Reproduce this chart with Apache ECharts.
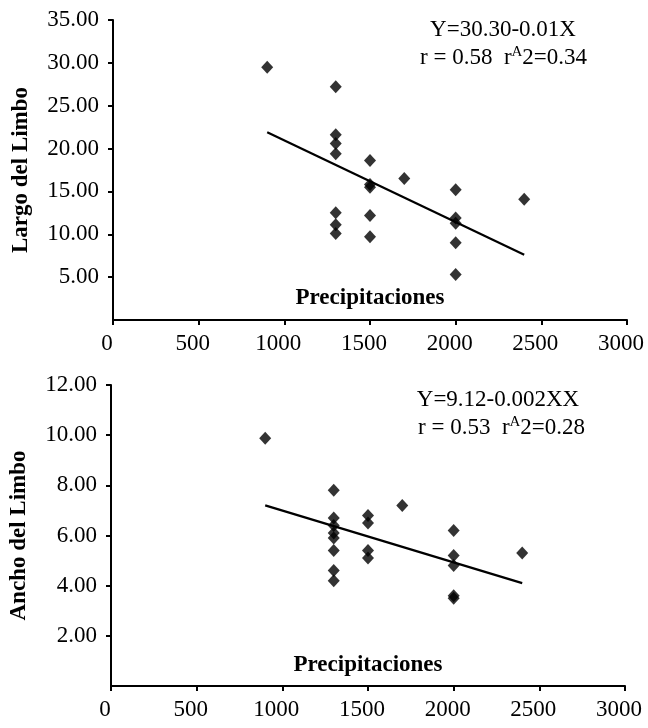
<!DOCTYPE html>
<html>
<head>
<meta charset="utf-8">
<script src="https://cdn.jsdelivr.net/npm/echarts@6/dist/echarts.min.js"></script>
<style>
  html, body { margin: 0; padding: 0; background: #fff; }
  #chart { width: 648px; height: 728px; }
</style>
</head>
<body>
<div id="chart"></div>
<script>
// datos
const precipTop = [900, 1300, 1300, 1300, 1300, 1300, 1300, 1300, 1500, 1500, 1500, 1500, 1500, 1700, 2000, 2000, 2000, 2000, 2000, 2400];
const largo = [29.5, 27.2, 21.6, 20.6, 19.4, 12.5, 11.1, 10.1, 18.6, 15.8, 15.5, 12.2, 9.7, 16.5, 15.2, 11.9, 11.3, 9.0, 5.3, 14.1];

const precipBottom = [900, 1300, 1300, 1300, 1300, 1300, 1300, 1300, 1300, 1500, 1500, 1500, 1500, 1700, 2000, 2000, 2000, 2000, 2000, 2400];
const ancho = [9.88, 7.8, 6.7, 6.4, 6.1, 5.9, 5.4, 4.6, 4.2, 6.8, 6.5, 5.4, 5.1, 7.2, 6.2, 5.2, 4.8, 3.6, 3.5, 5.3];

// recta de regresion (extremos)
const trendX = [900, 2400];
const largoTrend = [21.9, 7.6];
const anchoTrend = [7.2, 4.1];

const xTicks = [0, 3000, 500];   // min, max, interval
const yTopTicks = [0, 35, 5];
const yBottomTicks = [0, 12, 2];

const FONT = "Liberation Serif";

const pairs = (xs, ys) => xs.map((x, i) => [x, ys[i]]);

const xAxisBase = (gridIndex) => ({
  type: "value",
  gridIndex: gridIndex,
  min: xTicks[0],
  max: xTicks[1],
  interval: xTicks[2],
  axisLine: { lineStyle: { color: "#000", width: 2 } },
  axisTick: { inside: false, length: 5, lineStyle: { color: "#000", width: 2 } },
  splitLine: { show: false },
  axisLabel: {
    fontFamily: FONT, fontSize: 23, color: "#000", margin: 12,
    padding: [0, 12, 0, 0],
    formatter: (v) => String(v)
  }
});

const yAxisBase = (gridIndex, ticks, name) => ({
  type: "value",
  gridIndex: gridIndex,
  min: ticks[0],
  max: ticks[1],
  interval: ticks[2],
  name: name,
  nameLocation: "middle",
  nameGap: 80,
  nameTextStyle: { fontFamily: FONT, fontSize: 23, fontWeight: "bold", color: "#000" },
  axisLine: { show: true, lineStyle: { color: "#000", width: 2 } },
  axisTick: { show: true, inside: false, length: 5, lineStyle: { color: "#000", width: 2 } },
  splitLine: { show: false },
  axisLabel: {
    fontFamily: FONT, fontSize: 23, color: "#000", margin: 14,
    showMinLabel: false,
    formatter: (v) => v.toFixed(2)
  }
});

const scatterSeries = (idx, data) => ({
  type: "scatter",
  xAxisIndex: idx,
  yAxisIndex: idx,
  data: data,
  symbol: "diamond",
  symbolSize: [12, 13],
  itemStyle: { color: "#000" },
  z: 3
});

const lineSeries = (idx, data) => ({
  type: "line",
  xAxisIndex: idx,
  yAxisIndex: idx,
  data: data,
  showSymbol: false,
  symbol: "none",
  lineStyle: { color: "#000", width: 2.2 },
  z: 2
});

const richText = {
  base: { fontFamily: FONT, fontSize: 23, color: "#000", lineHeight: 26 },
  sup: { fontFamily: FONT, fontSize: 15, color: "#000", lineHeight: 26, verticalAlign: "top" }
};

const annot = (cx, y1, lx, y2, eq, r, r2) => [
  {
    type: "text",
    x: cx, y: y1,
    style: { text: eq, font: "23px " + FONT, fill: "#000", align: "center", verticalAlign: "middle" }
  },
  {
    type: "text",
    x: lx, y: y2,
    style: {
      text: "{base|r = " + r + "  r}{sup|A}{base|2=" + r2 + "}",
      rich: richText,
      align: "left",
      verticalAlign: "middle"
    }
  }
];

// nombre del eje X, dentro del area del grafico
const xName = (cx, cy) => ({
  type: "text",
  x: cx, y: cy,
  style: { text: "Precipitaciones", font: "bold 23px " + FONT, fill: "#000", align: "center", verticalAlign: "middle" }
});

const chart = echarts.init(document.getElementById("chart"));

chart.setOption({
  backgroundColor: "#fff",
  animation: false,
  grid: [
    { left: 113, right: 21, top: 20, height: 300, containLabel: false, outerBoundsMode: "none" },
    { left: 111, right: 23, top: 385, height: 301, containLabel: false, outerBoundsMode: "none" }
  ],
  xAxis: [xAxisBase(0), xAxisBase(1)],
  yAxis: [
    yAxisBase(0, yTopTicks, "Largo del Limbo"),
    yAxisBase(1, yBottomTicks, "Ancho del Limbo")
  ],
  series: [
    scatterSeries(0, pairs(precipTop, largo)),
    lineSeries(0, pairs(trendX, largoTrend)),
    scatterSeries(1, pairs(precipBottom, ancho)),
    lineSeries(1, pairs(trendX, anchoTrend))
  ],
  graphic: [
    ...annot(503, 30, 420, 58, "Y=30.30-0.01X", "0.58", "0.34"),
    ...annot(498, 400, 418, 428, "Y=9.12-0.002XX", "0.53", "0.28"),
    xName(370, 298),
    xName(368, 665)
  ]
});
</script>
</body>
</html>
